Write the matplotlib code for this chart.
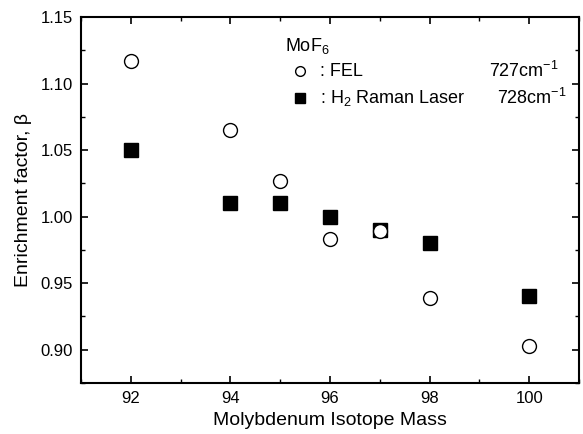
import matplotlib
matplotlib.use("Agg")
import matplotlib.pyplot as plt
from matplotlib.ticker import MultipleLocator

plt.rcParams['font.family'] = ['Liberation Sans', 'DejaVu Sans']
plt.rcParams['mathtext.fontset'] = 'custom'
plt.rcParams['mathtext.rm'] = 'Liberation Sans'
plt.rcParams['mathtext.it'] = 'Liberation Sans:italic'

# isotope masses and enrichment factors
mass = [92, 94, 95, 96, 97, 98, 100]
beta_fel = [1.117, 1.065, 1.027, 0.983, 0.989, 0.939, 0.903]
beta_raman = [1.050, 1.010, 1.010, 1.000, 0.990, 0.980, 0.940]

fig = plt.figure(figsize=(5.83, 4.34), dpi=100)
ax = fig.add_axes([81/583, 1 - 383/434, 498/583, 366/434])

ax.plot(mass, beta_raman, 's', color='black', markersize=10, linestyle='none')
ax.plot(mass, beta_fel, 'o', markerfacecolor='white', markeredgecolor='black',
        markersize=10, markeredgewidth=1.0, linestyle='none')

ax.set_xlim(91, 101)
ax.set_ylim(0.875, 1.15)
ax.set_xticks([92, 94, 96, 98, 100])
ax.xaxis.set_minor_locator(MultipleLocator(1))
ax.yaxis.set_major_locator(MultipleLocator(0.05))
ax.yaxis.set_minor_locator(MultipleLocator(0.025))
ax.yaxis.set_major_formatter(plt.FormatStrFormatter('%.2f'))
ax.tick_params(which='both', direction='in', top=True, right=True, labelsize=12)
ax.tick_params(which='major', length=5, width=1.2, pad=6)
ax.tick_params(which='minor', length=3, width=1.0)
for s in ax.spines.values():
    s.set_linewidth(1.5)

ax.set_xlabel('Molybdenum Isotope Mass', fontsize=14, labelpad=4)
ax.set_ylabel('Enrichment factor, β', fontsize=14, labelpad=6)

# in-plot legend text
ax.text(0.41, 0.92, 'MoF$_6$', transform=ax.transAxes, fontsize=13, va='center')
ax.plot([0.44], [0.852], 'o', transform=ax.transAxes, markerfacecolor='white',
        markeredgecolor='black', markersize=7)
ax.plot([0.44], [0.778], 's', transform=ax.transAxes, color='black', markersize=7)
ax.text(0.48, 0.852, ': FEL', transform=ax.transAxes, fontsize=13, va='center')
ax.text(0.48, 0.778, ': H$_2$ Raman Laser', transform=ax.transAxes, fontsize=13, va='center')
ax.text(0.96, 0.852, '727cm$^{-1}$', transform=ax.transAxes, fontsize=13, va='center', ha='right')
ax.text(0.975, 0.778, '728cm$^{-1}$', transform=ax.transAxes, fontsize=13, va='center', ha='right')

fig.savefig('out.png', dpi=100)
